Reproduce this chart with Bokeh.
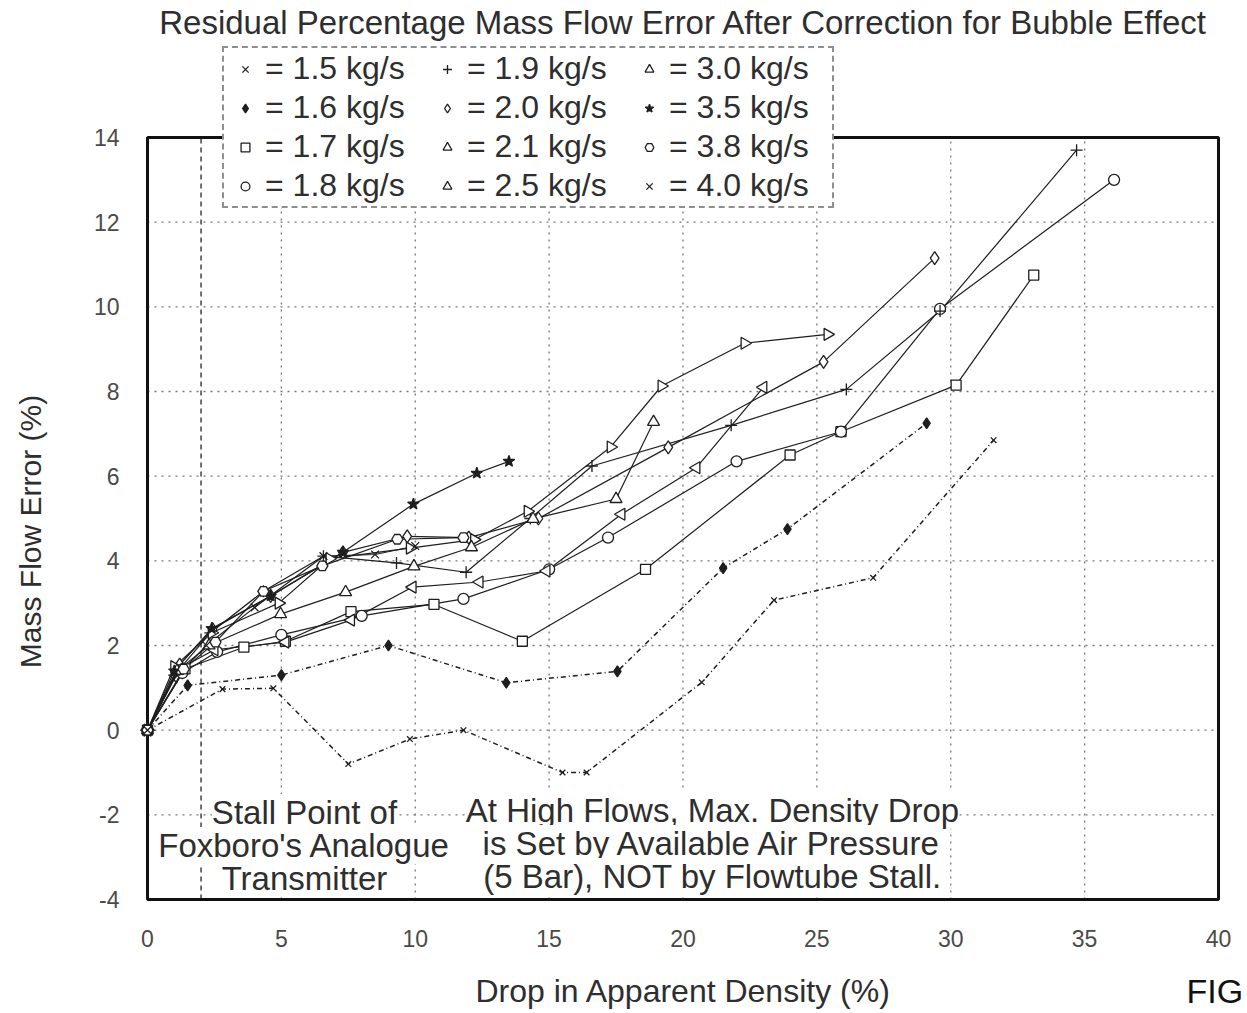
from math import pi
from bokeh.plotting import figure
from bokeh.models import Legend, LegendItem, Label, FixedTicker
from bokeh.embed import file_html
from bokeh.resources import INLINE

# ---- data ----
x_15 = [0, 2.8, 4.7, 7.5, 9.8, 11.8, 15.5, 16.4, 20.7, 23.4, 27.1, 31.6]
y_15 = [0, 0.97, 0.99, -0.8, -0.21, 0.0, -1.0, -1.0, 1.13, 3.07, 3.6, 6.85]
x_16 = [0, 1.5, 5.0, 9.0, 13.4, 17.55, 21.5, 23.9, 29.1]
y_16 = [0, 1.06, 1.3, 2.0, 1.12, 1.39, 3.83, 4.75, 7.25]
x_17 = [0, 1.4, 3.6, 5.15, 7.6, 10.7, 14.0, 18.6, 24.0, 25.9, 30.2, 33.1]
y_17 = [0, 1.45, 1.96, 2.1, 2.8, 2.97, 2.1, 3.8, 6.5, 7.05, 8.15, 10.75]
x_18 = [0, 1.3, 2.6, 5.0, 8.0, 11.8, 15.0, 17.2, 22.0, 25.9, 29.6, 36.1]
y_18 = [0, 1.35, 1.85, 2.25, 2.7, 3.1, 3.8, 4.55, 6.35, 7.05, 9.95, 13.0]
x_19 = [0, 1.0, 2.35, 4.33, 6.57, 9.3, 11.9, 14.3, 16.6, 21.8, 26.1, 29.6, 34.7]
y_19 = [0, 1.3, 2.3, 3.28, 4.11, 3.95, 3.73, 5.0, 6.24, 7.2, 8.05, 9.9, 13.7]
x_20 = [0, 1.2, 2.43, 4.6, 7.3, 9.7, 12.0, 14.6, 19.45, 25.25, 29.4]
y_20 = [0, 1.55, 2.39, 3.17, 4.2, 4.58, 4.55, 5.0, 6.68, 8.7, 11.15]
x_21 = [0, 1.0, 2.4, 4.9, 6.8, 9.8, 12.2, 14.2, 17.3, 19.2, 22.3, 25.4]
y_21 = [0, 1.5, 2.3, 3.0, 4.05, 4.3, 4.5, 5.17, 6.69, 8.13, 9.14, 9.35]
x_25 = [0, 1.2, 2.5, 5.15, 7.6, 9.9, 12.4, 14.9, 17.7, 20.5, 23.0]
y_25 = [0, 1.45, 1.9, 2.08, 2.6, 3.38, 3.5, 3.76, 5.1, 6.2, 8.1]
x_30 = [0, 1.1, 2.3, 4.97, 7.4, 9.95, 12.1, 14.4, 17.5, 18.9]
y_30 = [0, 1.4, 2.0, 2.74, 3.26, 3.87, 4.32, 4.99, 5.46, 7.28]
x_35 = [0, 1.0, 2.4, 4.6, 7.3, 9.93, 12.3, 13.5]
y_35 = [0, 1.4, 2.4, 3.17, 4.2, 5.34, 6.07, 6.35]
x_38 = [0, 1.35, 2.54, 4.33, 6.53, 9.33, 11.8]
y_38 = [0, 1.44, 2.08, 3.28, 3.88, 4.51, 4.55]
x_40 = [0, 0.97, 2.2, 4.0, 6.57, 8.5, 10.0]
y_40 = [0, 1.2, 2.0, 2.9, 4.11, 4.15, 4.35]

flow_labels = ["1.5", "1.6", "1.7", "1.8", "1.9", "2.0", "2.1", "2.5", "3.0", "3.5", "3.8", "4.0"]
xs = [x_15, x_16, x_17, x_18, x_19, x_20, x_21, x_25, x_30, x_35, x_38, x_40]
ys = [y_15, y_16, y_17, y_18, y_19, y_20, y_21, y_25, y_30, y_35, y_38, y_40]

x_ticks = [0, 5, 10, 15, 20, 25, 30, 35, 40]
y_ticks = [-4, -2, 0, 2, 4, 6, 8, 10, 12, 14]
stall_x = 2

title_text = "Residual Percentage Mass Flow Error After Correction for Bubble Effect"
x_title = "Drop in Apparent Density (%)"
y_title = "Mass Flow Error (%)"
fig_text = "FIG"
note_left = ["Stall Point of", "Foxboro's Analogue", "Transmitter"]
note_right = ["At High Flows, Max. Density Drop", "is Set by Available Air Pressure",
              "(5 Bar), NOT by Flowtube Stall."]

# ---- layout: the frame fills the canvas; the plot box sits at px 147..1218 x 137..899 ----
W, H = 1247, 1013
BOX_L, BOX_R, BOX_T, BOX_B = 147, 1218, 137, 899
x0, x1 = x_ticks[0], x_ticks[-1]
y0, y1 = y_ticks[0], y_ticks[-1]
sx = (BOX_R - BOX_L) / (x1 - x0)
sy = (BOX_B - BOX_T) / (y1 - y0)
xr = (x0 - BOX_L / sx, x0 + (W - BOX_L) / sx)
yr = (y1 - (H - BOX_T) / sy, y1 + BOX_T / sy)

INK = "#1e1e1e"
TXT = "#2e2e2e"
FONT = "Liberation Sans"
DD = "5 3 1 3"
styles = [
    dict(marker="x", size=8, angle=0, fill=None, dash=DD, lw=1.5),
    dict(marker="diamond", size=11, angle=0, fill=INK, dash=DD, lw=1.5),
    dict(marker="square", size=10, angle=0, fill="white", dash="solid", lw=1.2),
    dict(marker="circle", size=11, angle=0, fill="white", dash="solid", lw=1.2),
    dict(marker="cross", size=12, angle=0, fill=None, dash="solid", lw=1.2),
    dict(marker="diamond", size=13, angle=0, fill="white", dash="solid", lw=1.2),
    dict(marker="triangle", size=12, angle=-pi / 2, fill="white", dash="solid", lw=1.2),
    dict(marker="triangle", size=12, angle=pi / 2, fill="white", dash="solid", lw=1.2),
    dict(marker="triangle", size=12, angle=0, fill="white", dash="solid", lw=1.2),
    dict(marker="star", size=12, angle=0, fill=INK, dash="solid", lw=1.2),
    dict(marker="hex", size=11, angle=0, fill="white", dash="solid", lw=1.2),
    dict(marker="x", size=11, angle=0, fill=None, dash="solid", lw=1.2),
]

p = figure(width=W, height=H, x_range=xr, y_range=yr, title=None,
           output_backend="svg", toolbar_location=None, min_border=0)
p.outline_line_color = None
p.background_fill_color = "white"
p.border_fill_color = "white"
p.xgrid.visible = False
p.ygrid.visible = False

for ax in (p.xaxis[0], p.yaxis[0]):
    ax.axis_line_color = None
    ax.major_tick_line_color = None
    ax.minor_tick_line_color = None
    ax.major_label_text_font = FONT
    ax.major_label_text_font_size = "23px"
    ax.major_label_text_color = "#4a4a4a"
p.xaxis.fixed_location = y0
p.yaxis.fixed_location = x0
p.xaxis.ticker = FixedTicker(ticks=x_ticks)
p.yaxis.ticker = FixedTicker(ticks=y_ticks)
p.xaxis.major_label_standoff = 24
p.yaxis.major_label_standoff = 22
p.xaxis.major_label_overrides = {t: str(t) for t in x_ticks}
p.yaxis.major_label_overrides = {t: str(t) for t in y_ticks}

# dotted grid inside the box
gx = x_ticks[1:-1]
gy = y_ticks[1:-1]
p.segment(x0=gx, y0=[y0] * len(gx), x1=gx, y1=[y1] * len(gx),
          line_color="#777777", line_dash="2 5", line_width=1.3)
p.segment(x0=[x0] * len(gy), y0=gy, x1=[x1] * len(gy), y1=gy,
          line_color="#777777", line_dash="2 5", line_width=1.3)
# stall point marker line
p.segment(x0=[stall_x], y0=[y0], x1=[stall_x], y1=[y1],
          line_color="#333333", line_dash="5 4", line_width=1.4)
# plot box
p.quad(left=[x0], right=[x1], bottom=[y0], top=[y1], fill_color=None,
       line_color="#111111", line_width=3)

items = []
for lab, x, y, st in zip(flow_labels, xs, ys, styles):
    p.line(x, y, line_color=INK, line_width=st["lw"], line_dash=st["dash"])
for lab, x, y, st in zip(flow_labels, xs, ys, styles):
    r = p.scatter(x, y, marker=st["marker"], size=st["size"], angle=st["angle"],
                  line_color=INK, line_width=1.3,
                  fill_color=st["fill"] if st["fill"] else "white",
                  fill_alpha=1 if st["fill"] else 0)
    items.append(LegendItem(label="= " + lab + " kg/s", renderers=[r]))

legend = Legend(items=items, location=(222, H - 208), orientation="vertical", nrows=4,
                label_text_font=FONT, label_text_font_size="32px", label_text_color=TXT,
                glyph_width=40, glyph_height=22, label_standoff=0, label_width=162,
                label_height=39, spacing=0, padding=1, margin=0,
                border_line_color="#222222", border_line_dash="2 2", border_line_width=2,
                background_fill_color="white", background_fill_alpha=1)
p.add_layout(legend, "center")


def lab(px, py, text, size, angle=0, align="center", bg=None, color=TXT):
    p.add_layout(Label(x=x0 + (px - BOX_L) / sx, y=y1 - (py - BOX_T) / sy, text=text,
                       text_font=FONT, text_font_size=size, text_color=color,
                       text_align=align, text_baseline="middle", angle=angle,
                       background_fill_color=bg))


lab(683, 22, title_text, "33px")
lab(683, 990, x_title, "32px")
lab(30, 531, y_title, "30px", angle=pi / 2)
lab(1186, 990, fig_text, "34px", align="left", color="#111111")
for i, t in enumerate(note_left):
    lab(304, 812 + 33 * i, t, "33px", bg="white")
for i, t in enumerate(note_right):
    lab(712, 810 + 33 * i, t, "33px", bg="white")

open("out.html", "w").write(file_html(p, INLINE))
